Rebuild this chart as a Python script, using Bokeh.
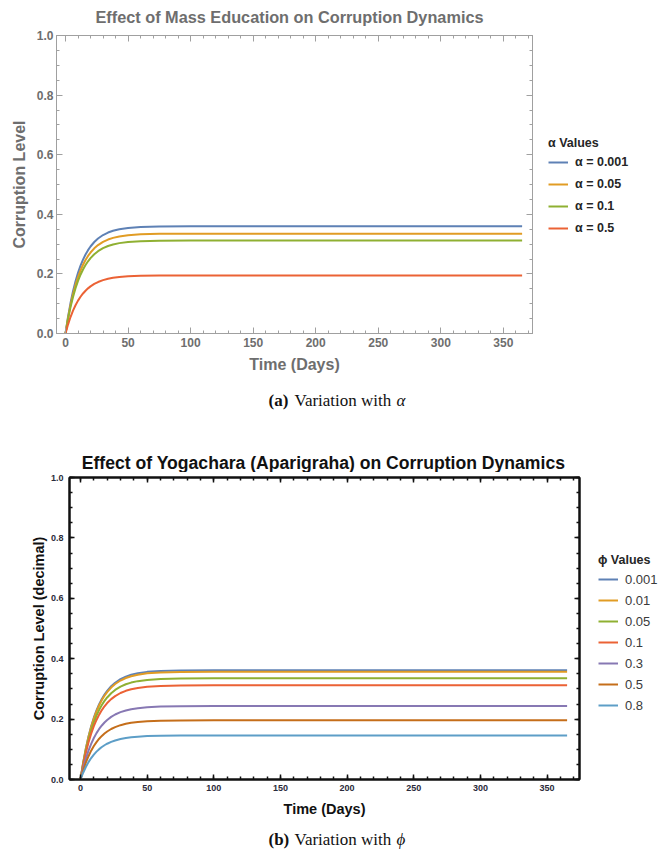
from bokeh.plotting import figure
from bokeh.models import (Range1d, LinearAxis, Legend, LegendItem, Label,
                          PrintfTickFormatter, CustomJSTickFormatter, SingleIntervalTicker)
from bokeh.layouts import row
from bokeh.embed import file_html
from bokeh.resources import INLINE

# ---------------- data ----------------
t_days = [0, 2, 4, 6, 8, 10, 12, 14, 16, 18, 20, 23, 26, 30, 34, 38, 43, 50, 60, 75, 100, 365]

alpha_labels = ["α = 0.001", "α = 0.05", "α = 0.1", "α = 0.5"]
alpha_0001 = [0, .0553, .1021, .1417, .1752, .2035, .2276, .2479, .2651, .2797, .2920, .3070, .3187, .3304, .3388, .3448, .3500, .3544, .3576, .3593, .360, .360]
alpha_005 = [0, .0514, .0950, .1318, .1630, .1894, .2118, .2307, .2467, .2603, .2717, .2857, .2966, .3075, .3153, .3209, .3257, .3298, .3328, .3344, .335, .335]
alpha_01 = [0, .0479, .0885, .1228, .1518, .1764, .1972, .2148, .2298, .2424, .2531, .2661, .2762, .2864, .2937, .2989, .3033, .3072, .3099, .3114, .312, .312]
alpha_05 = [0, .0299, .0553, .0767, .0949, .1103, .1233, .1343, .1436, .1515, .1582, .1663, .1727, .1790, .1835, .1868, .1896, .1920, .1937, .1946, .195, .195]

phi_labels = ["0.001", "0.01", "0.05", "0.1", "0.3", "0.5", "0.8"]
phi_0001 = [0, .0556, .1026, .1425, .1762, .2047, .2288, .2493, .2666, .2812, .2936, .3088, .3205, .3323, .3407, .3468, .3519, .3564, .3596, .3613, .362, .362]
phi_001 = [0, .0548, .1012, .1405, .1737, .2018, .2257, .2458, .2629, .2774, .2896, .3045, .3161, .3277, .3360, .3420, .3471, .3515, .3546, .3563, .357, .357]
phi_005 = [0, .0514, .0950, .1318, .1630, .1894, .2118, .2307, .2467, .2603, .2717, .2857, .2966, .3075, .3153, .3209, .3257, .3298, .3328, .3344, .335, .335]
phi_01 = [0, .0479, .0885, .1228, .1518, .1764, .1972, .2148, .2298, .2424, .2531, .2661, .2762, .2864, .2937, .2989, .3033, .3072, .3099, .3114, .312, .312]
phi_03 = [0, .0373, .0689, .0956, .1182, .1374, .1536, .1673, .1789, .1888, .1971, .2073, .2152, .2230, .2287, .2328, .2362, .2392, .2414, .2425, .243, .243]
phi_05 = [0, .0301, .0556, .0771, .0954, .1108, .1239, .1350, .1443, .1523, .1590, .1672, .1735, .1799, .1845, .1877, .1906, .1930, .1947, .1956, .196, .196]
phi_08 = [0, .0224, .0414, .0575, .0710, .0825, .0923, .1005, .1075, .1134, .1184, .1245, .1293, .1340, .1374, .1399, .1419, .1437, .1450, .1457, .146, .146]

alpha_series = [alpha_0001, alpha_005, alpha_01, alpha_05]
phi_series = [phi_0001, phi_001, phi_005, phi_01, phi_03, phi_05, phi_08]

colors = ["#5E81B5", "#E19C24", "#8FB032", "#EB6235", "#8778B3", "#C56E1A", "#5D9EC7"]

SANS = "Liberation Sans"
SERIF = "Liberation Serif"
W = 666


def empty_fmt():
    return CustomJSTickFormatter(code="return ''")


def style_axis(ax, color, lw, label_size, label_color, major_in, minor_in):
    ax.axis_line_color = color
    ax.axis_line_width = lw
    ax.major_tick_line_color = color
    ax.minor_tick_line_color = color
    ax.major_tick_line_width = lw
    ax.minor_tick_line_width = lw
    ax.major_tick_in = major_in
    ax.major_tick_out = 0
    ax.minor_tick_in = minor_in
    ax.minor_tick_out = 0
    ax.major_label_text_font = SANS
    ax.major_label_text_font_style = "bold"
    ax.major_label_text_font_size = label_size
    ax.major_label_text_color = label_color


def frame_axes(p, color, lw, major_in, minor_in):
    top = LinearAxis(ticker=SingleIntervalTicker(interval=50, num_minor_ticks=5), formatter=empty_fmt())
    right = LinearAxis(ticker=SingleIntervalTicker(interval=0.2, num_minor_ticks=4), formatter=empty_fmt())
    for ax in (top, right):
        style_axis(ax, color, lw, "1px", color, major_in, minor_in)
        ax.major_label_standoff = 0
    p.add_layout(top, "above")
    p.add_layout(right, "right")
    return top, right


def text_fig(height, parts):
    c = figure(width=W, height=height, x_range=Range1d(0, W), y_range=Range1d(0, height),
               output_backend="svg", toolbar_location=None,
               x_axis_location=None, y_axis_location=None, min_border=0)
    c.grid.visible = False
    c.outline_line_color = None
    for x, y, txt, font, style, size, color, align in parts:
        c.add_layout(Label(x=x, y=y, text=txt, text_font=font, text_font_style=style,
                           text_font_size=size, text_color=color,
                           text_align=align, text_baseline="middle"))
    return c


def legend_fig(width, height, top, bottom, labels, series, cols, loc, title, bold, size, spacing):
    # the legend sits beside the plot; its lines are the same series, kept out of view
    f = figure(width=width, height=height, x_range=Range1d(1000, 1000 + width),
               y_range=Range1d(0, 1),
               output_backend="svg", toolbar_location=None,
               x_axis_location=None, y_axis_location=None,
               min_border_left=0, min_border_right=0,
               min_border_top=top, min_border_bottom=bottom)
    f.grid.visible = False
    f.outline_line_color = None
    rs = [f.line(t_days, ys, line_color=c, line_width=2) for ys, c in zip(series, cols)]
    leg = Legend(items=[LegendItem(label=l, renderers=[r]) for l, r in zip(labels, rs)],
                 location=loc, title=title)
    leg.label_text_font = SANS
    leg.label_text_font_style = "bold" if bold else "normal"
    leg.label_text_font_size = size
    leg.label_text_color = "#262626" if bold else "#3a3a3a"
    leg.title_text_font = SANS
    leg.title_text_font_style = "bold"
    leg.title_text_font_size = "12.5px"
    leg.title_text_color = "#262626"
    leg.title_standoff = 2
    leg.glyph_width = 20
    leg.glyph_height = 20
    leg.label_height = 20
    leg.label_standoff = 7
    leg.spacing = spacing
    leg.padding = 0
    leg.margin = 0
    leg.border_line_color = None
    leg.background_fill_alpha = 0
    f.add_layout(leg, "center")
    return f


# ---------------- panel (a) ----------------
GRAY = "#6e6e6e"
FRAME_A = "#a0a0a0"
HA, TA, BA = 356, 6, 52

title_a = text_fig(29, [(289, 13, "Effect of Mass Education on Corruption Dynamics",
                         SANS, "bold", "16.3px", GRAY, "center")])

pa = figure(width=536, height=HA, x_range=Range1d(-7.2, 373.3), y_range=Range1d(0, 1),
            output_backend="svg", toolbar_location=None,
            min_border_left=56, min_border_right=4, min_border_top=TA, min_border_bottom=BA)
pa.grid.visible = False
pa.outline_line_color = FRAME_A

for ys, c in zip(alpha_series, colors[:4]):
    pa.line(t_days, ys, line_color=c, line_width=2)

pa.xaxis.ticker = SingleIntervalTicker(interval=50, num_minor_ticks=5)
pa.yaxis.ticker = SingleIntervalTicker(interval=0.2, num_minor_ticks=4)
pa.yaxis.formatter = PrintfTickFormatter(format="%.1f")
for ax in pa.xaxis + pa.yaxis:
    style_axis(ax, FRAME_A, 1, "12px", GRAY, 6, 3)
pa.xaxis.axis_label = "Time (Days)"
pa.yaxis.axis_label = "Corruption Level"
for ax in pa.xaxis + pa.yaxis:
    ax.axis_label_text_font = SANS
    ax.axis_label_text_font_style = "bold"
    ax.axis_label_text_font_size = "16px"
    ax.axis_label_text_color = GRAY
pa.xaxis.major_label_standoff = 4
pa.xaxis.axis_label_standoff = 6
pa.yaxis.major_label_standoff = 3
pa.yaxis.axis_label_standoff = 6
frame_axes(pa, FRAME_A, 1, 6, 3)

lega = legend_fig(W - 536, HA, TA, BA, alpha_labels, alpha_series, colors[:4], (12, 95),
                  "α Values", True, "12.5px", 2)

cap_a = text_fig(30, [(268, 15, "(a)", SERIF, "bold", "17px", "#111111", "left"),
                      (294, 15, "Variation with", SERIF, "normal", "17px", "#111111", "left"),
                      (396, 15, "α", SERIF, "italic", "17px", "#111111", "left")])

# ---------------- panel (b) ----------------
BLK = "#111111"
HB, TB, BB = 350, 5, 43

title_b = text_fig(57, [(323, 10, "Effect of Yogachara (Aparigraha) on Corruption Dynamics",
                         SANS, "bold", "17.6px", BLK, "center")])

pb = figure(width=583, height=HB, x_range=Range1d(-8.25, 374.3), y_range=Range1d(0, 1),
            output_backend="svg", toolbar_location=None,
            min_border_left=69, min_border_right=4, min_border_top=TB, min_border_bottom=BB)
pb.grid.visible = False
pb.outline_line_color = BLK
pb.outline_line_width = 2

for ys, c in zip(phi_series, colors):
    pb.line(t_days, ys, line_color=c, line_width=2)

pb.xaxis.ticker = SingleIntervalTicker(interval=50, num_minor_ticks=5)
pb.yaxis.ticker = SingleIntervalTicker(interval=0.2, num_minor_ticks=4)
pb.yaxis.formatter = PrintfTickFormatter(format="%.1f")
for ax in pb.xaxis + pb.yaxis:
    style_axis(ax, BLK, 1.5, "9px", "#2b2b3a", 5, 3)
pb.xaxis.axis_label = "Time (Days)"
pb.yaxis.axis_label = "Corruption Level (decimal)"
for ax in pb.xaxis + pb.yaxis:
    ax.axis_label_text_font = SANS
    ax.axis_label_text_font_style = "bold"
    ax.axis_label_text_font_size = "14.5px"
    ax.axis_label_text_color = BLK
    ax.axis_line_width = 2
pb.xaxis.major_label_standoff = 5
pb.xaxis.axis_label_standoff = 7
pb.yaxis.major_label_standoff = 6
pb.yaxis.axis_label_standoff = 1
tb, rb_ax = frame_axes(pb, BLK, 1.5, 5, 3)
tb.axis_line_width = 2
rb_ax.axis_line_width = 2

legb = legend_fig(W - 583, HB, TB, BB, phi_labels, phi_series, colors, (15, 64),
                  "ϕ Values", False, "13px", 1)

cap_b = text_fig(30, [(268, 13, "(b)", SERIF, "bold", "17px", "#111111", "left"),
                      (294, 13, "Variation with", SERIF, "normal", "17px", "#111111", "left"),
                      (396, 13, "ϕ", SERIF, "italic", "17px", "#111111", "left")])

open("out.html", "w").write(file_html(
    [title_a, row(pa, lega), cap_a, title_b, row(pb, legb), cap_b], INLINE))
